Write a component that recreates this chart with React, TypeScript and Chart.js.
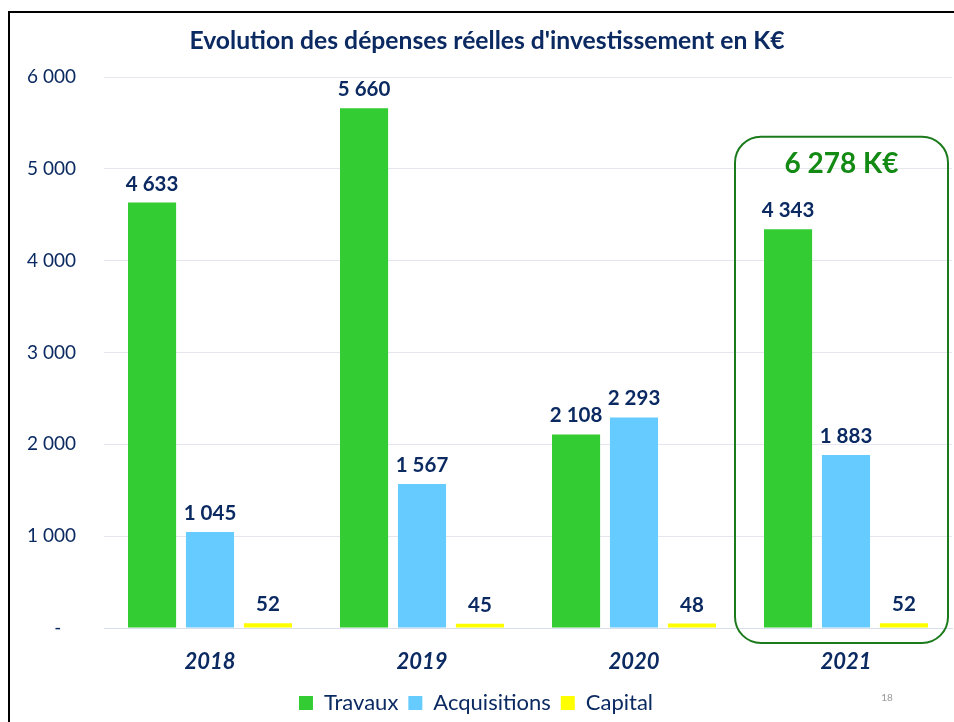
import React, { useEffect, useRef } from "react";
import { Chart, registerables } from "chart.js";

Chart.register(...registerables);

const years = ["2018", "2019", "2020", "2021"];
const travaux = [4633, 5660, 2108, 4343];
const acquisitions = [1045, 1567, 2293, 1883];
const capital = [52, 45, 48, 52];
const yTicks = [0, 1000, 2000, 3000, 4000, 5000, 6000];
const titleText = "Evolution des dépenses réelles d'investissement en K€";
const highlightIndex = 3;
const pageNumber = "18";

const NAVY = "#0B2A62";
const FONT = "Lato, 'Open Sans', sans-serif";

const fmt = (v: number) => String(Math.round(v)).replace(/\B(?=(\d{3})+(?!\d))/g, " ");

const customPlugin = {
  id: "custom",
  beforeDraw(chart: any) {
    const ctx = chart.ctx;
    ctx.save();
    ctx.fillStyle = "#ffffff";
    ctx.fillRect(0, 0, chart.width, chart.height);
    ctx.restore();
  },
  afterDatasetsDraw(chart: any) {
    const ctx = chart.ctx;
    const xs = chart.scales.x;
    const ys = chart.scales.y;
    ctx.save();
    // value labels
    ctx.font = `bold 20.5px ${FONT}`;
    ctx.fillStyle = NAVY;
    ctx.textAlign = "center";
    ctx.textBaseline = "alphabetic";
    chart.data.datasets.forEach((ds: any, di: number) => {
      const meta = chart.getDatasetMeta(di);
      meta.data.forEach((bar: any, i: number) => {
        ctx.fillText(fmt(ds.data[i]), bar.x, bar.y - 12);
      });
    });
    // highlight box
    const cx = xs.getPixelForValue(highlightIndex);
    const left = cx - 111;
    const right = cx + 102;
    const top = ys.getPixelForValue(5350);
    const bottom = chart.chartArea.bottom + 15;
    const r = 26;
    ctx.strokeStyle = "#1B7A1B";
    ctx.lineWidth = 2;
    ctx.beginPath();
    ctx.moveTo(left + r, top);
    ctx.lineTo(right - r, top);
    ctx.arcTo(right, top, right, top + r, r);
    ctx.lineTo(right, bottom - r);
    ctx.arcTo(right, bottom, right - r, bottom, r);
    ctx.lineTo(left + r, bottom);
    ctx.arcTo(left, bottom, left, bottom - r, r);
    ctx.lineTo(left, top + r);
    ctx.arcTo(left, top, left + r, top, r);
    ctx.closePath();
    ctx.stroke();
    const total =
      travaux[highlightIndex] + acquisitions[highlightIndex] + capital[highlightIndex];
    ctx.font = `bold 28px ${FONT}`;
    ctx.fillStyle = "#138A13";
    ctx.textBaseline = "middle";
    ctx.fillText(`${fmt(total)} K€`, (left + right) / 2, top + 27);
    ctx.restore();
  },
  afterDraw(chart: any) {
    const ctx = chart.ctx;
    ctx.save();
    // title
    ctx.font = `bold 24.7px ${FONT}`;
    ctx.fillStyle = NAVY;
    ctx.textAlign = "center";
    ctx.textBaseline = "middle";
    ctx.fillText(titleText, 487, 41);
    // page number
    ctx.font = `10px ${FONT}`;
    ctx.fillStyle = "#999999";
    ctx.fillText(pageNumber, 887, 698);
    // frame
    ctx.strokeStyle = "#000000";
    ctx.lineWidth = 2;
    ctx.beginPath();
    ctx.moveTo(9, 730);
    ctx.lineTo(9, 12);
    ctx.lineTo(960, 12);
    ctx.stroke();
    ctx.restore();
  },
};

export default function App() {
  const ref = useRef<HTMLCanvasElement>(null);
  useEffect(() => {
    document.body.style.margin = "0";
    const chart = new Chart(ref.current!, {
      type: "bar",
      data: {
        labels: years,
        datasets: [
          { label: "Travaux", data: travaux, backgroundColor: "#33CC33" },
          { label: "Acquisitions", data: acquisitions, backgroundColor: "#66CCFF" },
          { label: "Capital", data: capital, backgroundColor: "#FFFF00" },
        ],
      },
      options: {
        responsive: false,
        animation: false,
        datasets: {
          bar: { categoryPercentage: 0.82, barPercentage: 0.83 },
        },
        layout: { padding: { top: 77, left: 0, right: 2, bottom: -2 } },
        plugins: {
          title: { display: false },
          tooltip: { enabled: false },
          legend: {
            position: "bottom",
            labels: {
              boxWidth: 14,
              boxHeight: 14,
              padding: 10,
              color: NAVY,
              font: { family: FONT, size: 22 },
            },
          },
        },
        scales: {
          x: {
            afterFit: (s: any) => {
              s.height = 54;
            },
            grid: { display: false },
            border: { display: true, color: "#D9DEEC", width: 1 },
            ticks: {
              color: NAVY,
              padding: 13,
              font: { family: FONT, size: 22, weight: "bold", style: "italic" },
            },
          },
          y: {
            min: 0,
            max: 6000,
            afterFit: (s: any) => {
              s.width = 104;
            },
            afterBuildTicks: (s: any) => {
              s.ticks = yTicks.map((v) => ({ value: v }));
            },
            border: { display: false },
            grid: { color: "#E6E6EE", drawTicks: false },
            ticks: {
              color: NAVY,
              padding: 28,
              font: { family: FONT, size: 19 },
              callback: (v: any) => (Number(v) === 0 ? "-   " : fmt(Number(v))),
            },
          },
        },
      },
      plugins: [customPlugin],
    });
    return () => chart.destroy();
  }, []);
  return <canvas ref={ref} width={954} height={722} style={{ display: "block" }} />;
}
